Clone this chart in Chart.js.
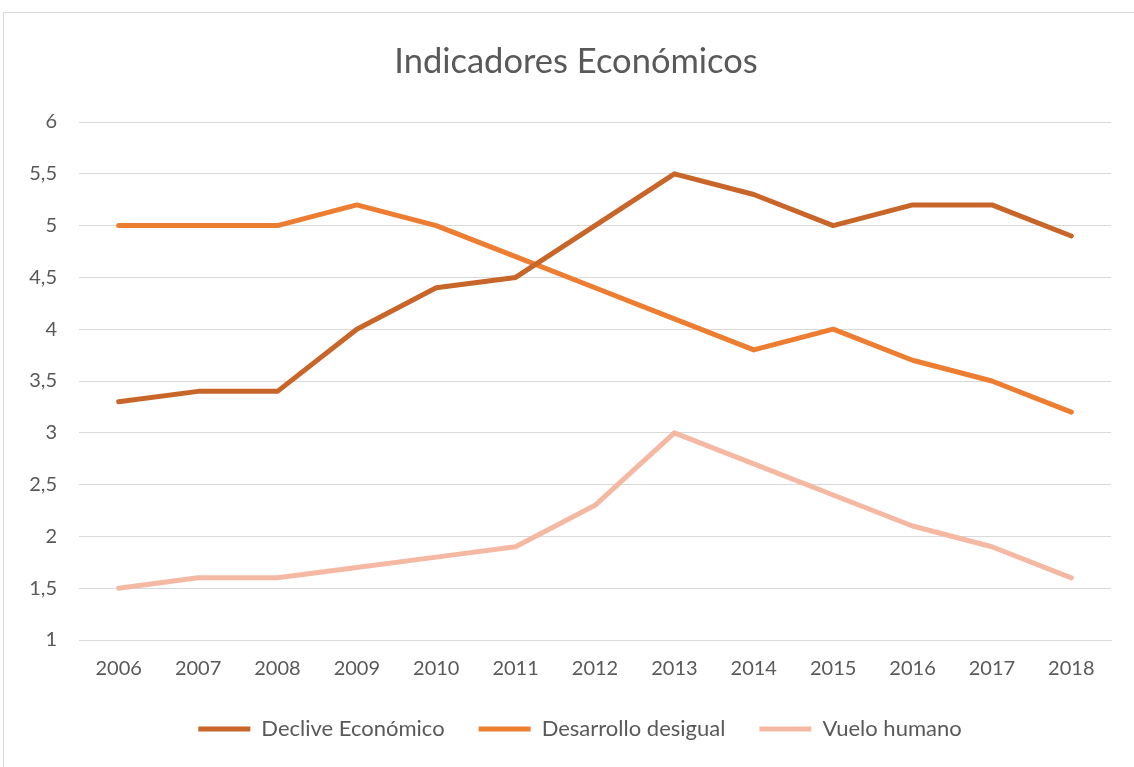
<!DOCTYPE html>
<html>
<head>
<meta charset="utf-8">
<title>Indicadores Económicos</title>
<script src="https://cdn.jsdelivr.net/npm/chart.js@4/dist/chart.umd.min.js"></script>
<style>
    html, body { margin: 0; padding: 0; background: #fff; overflow: hidden; }
    #frame {
        position: absolute; left: 3px; top: 12px;
        width: 1160px; height: 800px;
        border: 1px solid #d9d9d9;
    }
    #wrap { position: absolute; left: 0; top: 0; width: 1134px; height: 767px; }
</style>
</head>
<body>
<div id="frame"></div>
<div id="wrap"><canvas id="data-chart" width="1134" height="767"></canvas></div>
<script>
    'use strict';

    var years = ['2006', '2007', '2008', '2009', '2010', '2011', '2012',
        '2013', '2014', '2015', '2016', '2017', '2018'];
    var declive = [3.3, 3.4, 3.4, 4.0, 4.4, 4.5, 5.0, 5.5, 5.3, 5.0, 5.2, 5.2, 4.9];
    var desarrollo = [5.0, 5.0, 5.0, 5.2, 5.0, 4.7, 4.4, 4.1, 3.8, 4.0, 3.7, 3.5, 3.2];
    var vuelo = [1.5, 1.6, 1.6, 1.7, 1.8, 1.9, 2.3, 3.0, 2.7, 2.4, 2.1, 1.9, 1.6];
    var seriesNames = ['Declive Económico', 'Desarrollo desigual', 'Vuelo humano'];
    var yTicks = [1, 1.5, 2, 2.5, 3, 3.5, 4, 4.5, 5, 5.5, 6];

    var textColor = '#595959',
        gridColor = '#d9d9d9',
        fontFamily = 'Lato, "Open Sans", sans-serif';

    function lineSet(label, data, color) {
        return {
            label: label,
            data: data,
            borderColor: color,
            backgroundColor: color,
            borderWidth: 5,
            borderCapStyle: 'round',
            borderJoinStyle: 'round',
            pointRadius: 0,
            pointHoverRadius: 0,
            pointStyle: 'line',
            tension: 0,
            fill: false
        };
    }

    // title and legend are centred on the whole chart frame, not on the plot
    var centreOnFrame = {
        id: 'centreOnFrame',
        afterLayout: function (chart) {
            if (chart.titleBlock) {
                chart.titleBlock.left = 0;
                chart.titleBlock.right = 1152;
            }
            if (chart.legend) {
                chart.legend.left = 0;
                chart.legend.right = 1160;
            }
        }
    };

    var ctx = document.getElementById('data-chart').getContext('2d');
    var chart = new Chart(ctx, {
        type: 'line',
        data: {
            labels: years,
            datasets: [
                lineSet(seriesNames[0], declive, '#c8662a'),
                lineSet(seriesNames[1], desarrollo, '#ed7d31'),
                lineSet(seriesNames[2], vuelo, '#f5b9a3')
            ]
        },
        plugins: [centreOnFrame],
        options: {
            responsive: false,
            animation: false,
            layout: { padding: { left: 0, right: 23, top: 0, bottom: 17 } },
            plugins: {
                title: {
                    display: true,
                    text: 'Indicadores Económicos',
                    color: textColor,
                    font: { family: fontFamily, size: 34.5, weight: 'normal' },
                    padding: { top: 41, bottom: 39.6 }
                },
                legend: {
                    position: 'bottom',
                    labels: {
                        color: textColor,
                        font: { family: fontFamily, size: 22 },
                        usePointStyle: true,
                        pointStyleWidth: 52,
                        boxHeight: 22,
                        padding: 34
                    }
                },
                tooltip: { enabled: false }
            },
            scales: {
                x: {
                    offset: true,
                    afterFit: function (scale) { scale.height = 44; },
                    grid: { display: false, drawTicks: false },
                    border: { display: true, color: gridColor, width: 1 },
                    ticks: {
                        color: textColor,
                        font: { family: fontFamily, size: 20 },
                        padding: 17,
                        maxRotation: 0
                    }
                },
                y: {
                    min: 1,
                    max: 6,
                    afterFit: function (scale) { scale.width = 79; },
                    afterBuildTicks: function (scale) {
                        scale.ticks = yTicks.map(function (v) { return { value: v }; });
                    },
                    grid: { color: gridColor, lineWidth: 1, drawTicks: false },
                    border: { display: false },
                    ticks: {
                        color: textColor,
                        font: { family: fontFamily, size: 20 },
                        padding: 22,
                        callback: function (v) { return String(v).replace('.', ','); }
                    }
                }
            }
        }
    });
</script>
</body>
</html>
